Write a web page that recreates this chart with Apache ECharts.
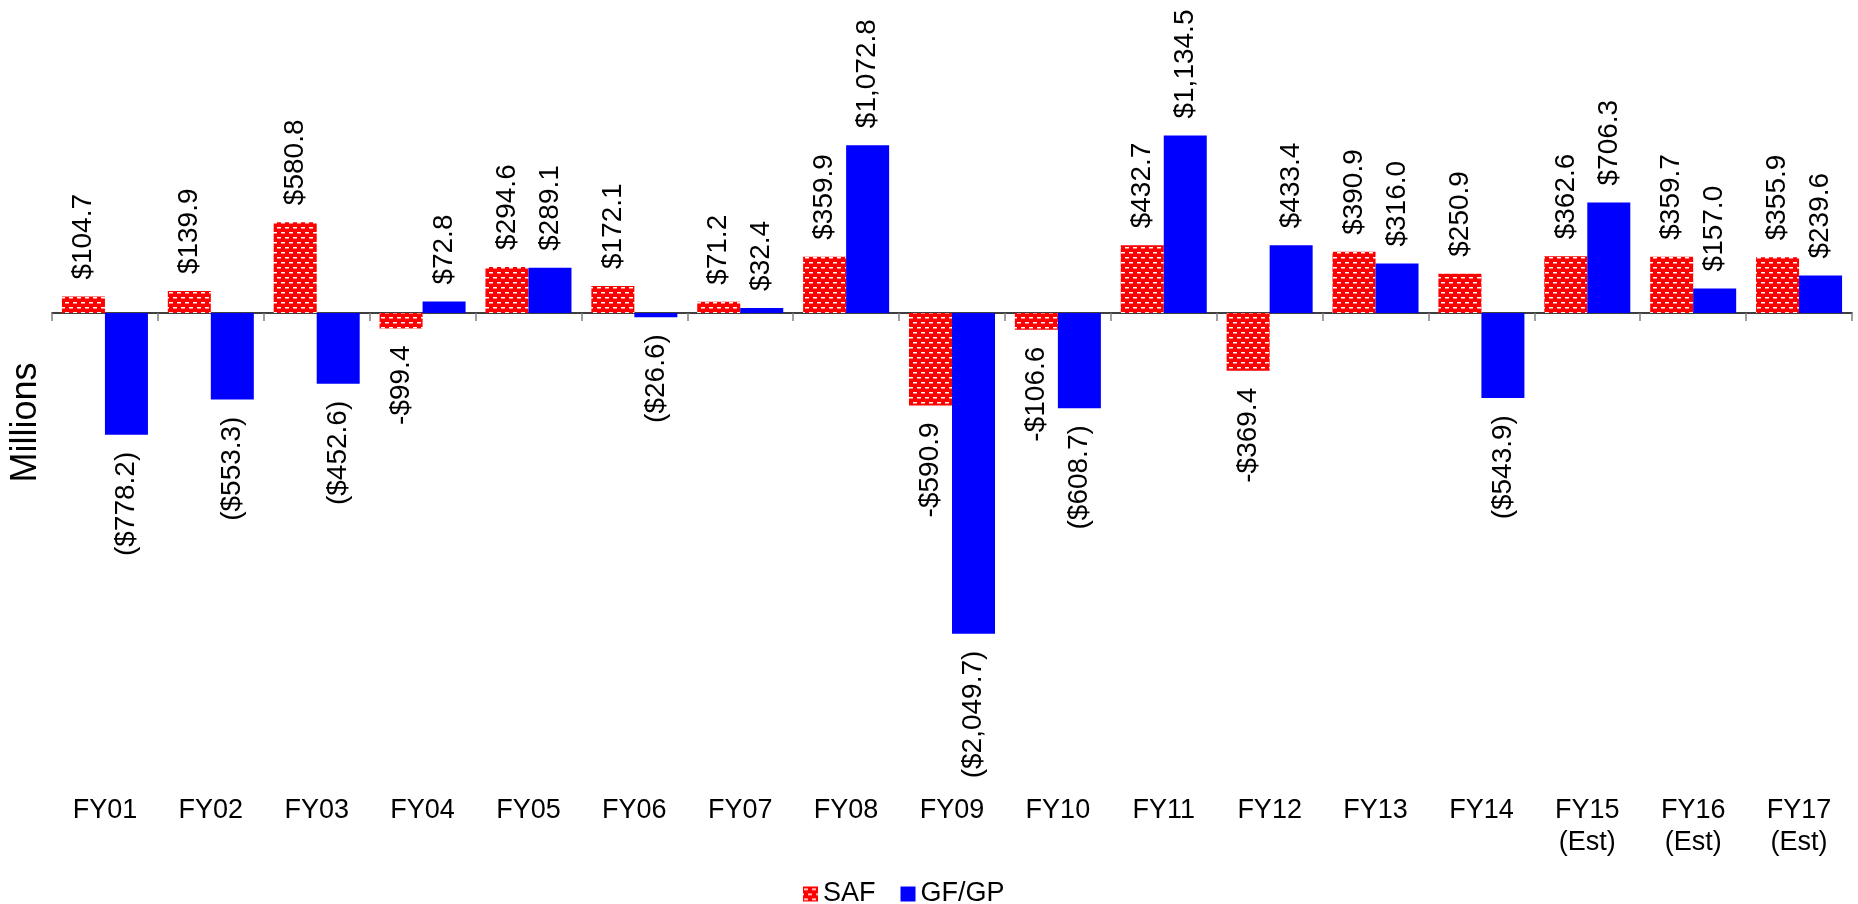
<!DOCTYPE html>
<html>
<head>
<meta charset="utf-8">
<style>
  html, body { margin: 0; padding: 0; background: #fff; }
  #chart { width: 1858px; height: 904px; }
</style>
<script src="https://cdn.jsdelivr.net/npm/echarts@6/dist/echarts.min.js"></script>
</head>
<body>
<div id="chart"></div>
<script>
const categories = ['FY01','FY02','FY03','FY04','FY05','FY06','FY07','FY08','FY09','FY10','FY11','FY12','FY13','FY14','FY15\n(Est)','FY16\n(Est)','FY17\n(Est)'];
const safValues = [104.7, 139.9, 580.8, -99.4, 294.6, 172.1, 71.2, 359.9, -590.9, -106.6, 432.7, -369.4, 390.9, 250.9, 362.6, 359.7, 355.9];
const gfgpValues = [-778.2, -553.3, -452.6, 72.8, 289.1, -26.6, 32.4, 1072.8, -2049.7, -608.7, 1134.5, 433.4, 316.0, -543.9, 706.3, 157.0, 239.6];
const seriesNames = ['SAF', 'GF/GP'];
const yAxisName = 'Millions';

const FONT = '"Liberation Sans", Arial, sans-serif';

function money(v) {
  const parts = Math.abs(v).toFixed(1).split('.');
  parts[0] = parts[0].replace(/\B(?=(\d{3})+(?!\d))/g, ',');
  return '$' + parts.join('.');
}
function fmtSaf(v) { return v < 0 ? '-' + money(v) : money(v); }
function fmtGf(v) { return v < 0 ? '(' + money(v) + ')' : money(v); }

// brick-like pattern for SAF
function makePattern() {
  const c = document.createElement('canvas');
  c.width = 8; c.height = 10;
  const g = c.getContext('2d');
  g.fillStyle = '#ff0000';
  g.fillRect(0, 0, 8, 10);
  g.fillStyle = '#ffffff';
  g.fillRect(1, 2, 4, 1.5);
  g.fillRect(5, 7, 4, 1.5);
  g.fillRect(0, 7, 1, 1.5);
  return c;
}
const safColor = { image: makePattern(), repeat: 'repeat' };

function buildData(vals, fmt) {
  return vals.map(v => ({
    value: v,
    label: {
      position: v >= 0 ? 'top' : 'bottom',
      align: v >= 0 ? 'left' : 'right',
      formatter: fmt(v)
    }
  }));
}

const labelBase = {
  show: true,
  rotate: 90,
  verticalAlign: 'middle',
  distance: 17,
  fontSize: 28,
  fontFamily: FONT,
  color: '#000'
};

const chart = echarts.init(document.getElementById('chart'), null, { renderer: 'canvas' });
chart.setOption({
  animation: false,
  backgroundColor: '#ffffff',
  textStyle: { fontFamily: FONT },
  grid: { left: 49, right: 6, top: 94, height: 657 },
  legend: {
    data: seriesNames,
    left: 798,
    top: 874,
    icon: 'rect',
    itemWidth: 15,
    itemHeight: 15,
    itemGap: 25,
    textStyle: { fontSize: 27, fontFamily: FONT, color: '#000', lineHeight: 30 }
  },
  xAxis: [
    {
      type: 'category',
      data: categories,
      position: 'top',
      axisLine: { onZero: true, lineStyle: { color: '#000', width: 1.5 } },
      axisTick: { show: true, inside: true, length: 8, lineStyle: { color: '#808080', width: 1.5 } },
      axisLabel: { show: false },
      splitLine: { show: false }
    },
    {
      type: 'category',
      data: categories,
      position: 'bottom',
      axisLine: { show: false, onZero: false },
      axisTick: { show: false },
      axisLabel: { show: true, interval: 0, fontSize: 27, lineHeight: 32, margin: 44, color: '#000', fontFamily: FONT },
      splitLine: { show: false }
    }
  ],
  yAxis: {
    type: 'value',
    min: -2800,
    max: 1400,
    name: yAxisName,
    nameLocation: 'middle',
    nameRotate: 90,
    nameGap: 8,
    nameTextStyle: { fontSize: 36, color: '#000', fontFamily: FONT },
    axisLine: { show: false },
    axisTick: { show: false },
    axisLabel: { show: false },
    splitLine: { show: false }
  },
  series: [
    {
      name: seriesNames[0],
      type: 'bar',
      xAxisIndex: 0,
      barWidth: 43,
      barGap: '0%',
      itemStyle: { color: safColor },
      label: labelBase,
      data: buildData(safValues, fmtSaf)
    },
    {
      name: seriesNames[1],
      type: 'bar',
      xAxisIndex: 0,
      barWidth: 43,
      barGap: '0%',
      itemStyle: { color: '#0000ff' },
      label: labelBase,
      data: buildData(gfgpValues, fmtGf)
    }
  ]
});
</script>
</body>
</html>
